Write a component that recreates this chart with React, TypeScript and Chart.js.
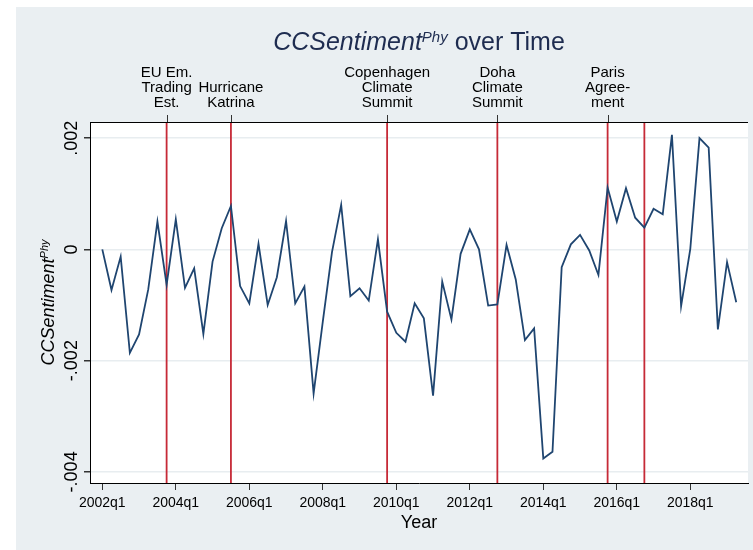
import { useEffect, useRef } from "react";
import { Chart, registerables } from "chart.js";
Chart.register(...registerables);

const FONT = "'Liberation Sans', Arial, Helvetica, sans-serif";
const PANEL = "#eaeff2";
const GRID = "#e8edf0";
const LINE = "#1f4570";
const RED = "#c62a37";
const TITLE_COLOR = "#1e2c50";

// Quarters 2002q1 .. 2019q2
const quarters: string[] = [];
for (let y = 2002; y <= 2019; y++) for (let q = 1; q <= 4; q++) quarters.push(`${y}q${q}`);
quarters.splice(70);

const sentiment: number[] = [
  0.0, -0.00073, -0.00013, -0.00186, -0.00153, -0.00072, 0.0005, -0.00064, 0.00054, -0.00069,
  -0.00034, -0.00152, -0.00022, 0.00038, 0.00078, -0.00066, -0.00097, 0.0001, -0.001, -0.0005,
  0.00051, -0.00097, -0.00067, -0.00259, -0.0013, -0.00005, 0.0008, -0.00084, -0.0007, -0.00092,
  0.00018, -0.00112, -0.0015, -0.00166, -0.00097, -0.00124, -0.00263, -0.00058, -0.00126, -0.00008,
  0.00036, 0.0, -0.00101, -0.00099, 0.00008, -0.00054, -0.00163, -0.00142, -0.00376, -0.00364,
  -0.00032, 0.00009, 0.00026, -0.00002, -0.00046, 0.00111, 0.0005, 0.0011, 0.00057, 0.00039,
  0.00073, 0.00063, 0.00206, -0.00102, 0.00001, 0.002, 0.00183, -0.00144, -0.00023, -0.00095,
];

const xTickQuarters: string[] = ["2002q1", "2004q1", "2006q1", "2008q1", "2010q1", "2012q1", "2014q1", "2016q1", "2018q1"];
const yTickValues: number[] = [0.002, 0, -0.002, -0.004];
const yTickLabels: string[] = [".002", "0", "-.002", "-.004"];

const eventQuarters: string[] = ["2003q4", "2005q3", "2009q4", "2012q4", "2015q4", "2016q4"];
const eventLabels: string[][] = [
  ["EU Em.", "Trading", "Est."],
  ["Hurricane", "Katrina"],
  ["Copenhagen", "Climate", "Summit"],
  ["Doha", "Climate", "Summit"],
  ["Paris", "Agree-", "ment"],
  [],
];

const X_MIN = -1.339;
const X_MAX = 70.28;
const Y_MIN = -0.0042;
const Y_MAX = 0.00229;

function drawSupText(
  ctx: CanvasRenderingContext2D,
  parts: { text: string; font: string; raise: number }[],
  cx: number,
  baseY: number
) {
  let total = 0;
  const widths = parts.map((p) => {
    ctx.font = p.font;
    const w = ctx.measureText(p.text).width;
    total += w;
    return w;
  });
  let x = cx - total / 2;
  parts.forEach((p, i) => {
    ctx.font = p.font;
    ctx.fillText(p.text, x, baseY - p.raise);
    x += widths[i];
  });
}

const decor = {
  id: "decor",
  beforeDraw(chart: any) {
    const { ctx, chartArea: a, width, height } = chart;
    ctx.save();
    ctx.fillStyle = "#ffffff";
    ctx.fillRect(0, 0, width, height);
    ctx.fillStyle = PANEL;
    ctx.fillRect(16, 7, width - 16, height - 7);
    ctx.fillStyle = "#ffffff";
    ctx.fillRect(a.left, a.top, a.right - a.left, a.bottom - a.top);
    ctx.restore();
  },
  beforeDatasetsDraw(chart: any) {
    const { ctx, chartArea: a, scales } = chart;
    ctx.save();
    ctx.strokeStyle = RED;
    ctx.lineWidth = 1.8;
    eventQuarters.forEach((q) => {
      const x = scales.x.getPixelForValue(quarters.indexOf(q));
      ctx.beginPath();
      ctx.moveTo(x, a.top);
      ctx.lineTo(x, a.bottom);
      ctx.stroke();
    });
    ctx.restore();
  },
  afterDraw(chart: any) {
    const { ctx, chartArea: a, scales } = chart;
    ctx.save();
    // top axis line
    ctx.strokeStyle = "#000";
    ctx.lineWidth = 1;
    ctx.beginPath();
    ctx.moveTo(a.left, a.top + 0.5);
    ctx.lineTo(a.right, a.top + 0.5);
    ctx.stroke();

    // event labels + top ticks
    ctx.fillStyle = "#000";
    ctx.font = `15px ${FONT}`;
    ctx.textAlign = "center";
    ctx.textBaseline = "alphabetic";
    eventQuarters.forEach((q, i) => {
      const lines = eventLabels[i];
      if (!lines.length) return;
      const x = scales.x.getPixelForValue(quarters.indexOf(q));
      ctx.strokeStyle = "#333";
      ctx.beginPath();
      ctx.moveTo(Math.round(x) + 0.5, a.top);
      ctx.lineTo(Math.round(x) + 0.5, a.top - 7);
      ctx.stroke();
      const n = lines.length;
      lines.forEach((t, j) => {
        ctx.fillText(t, x, 107 - (n - 1 - j) * 15);
      });
    });

    // y tick labels (rotated)
    ctx.font = `18px ${FONT}`;
    ctx.fillStyle = "#000";
    yTickValues.forEach((v, i) => {
      const y = scales.y.getPixelForValue(v);
      ctx.save();
      ctx.translate(77, y);
      ctx.rotate(-Math.PI / 2);
      ctx.textAlign = "center";
      ctx.fillText(yTickLabels[i], 0, 0);
      ctx.restore();
    });

    // title
    ctx.textAlign = "left";
    ctx.fillStyle = TITLE_COLOR;
    const cx = (a.left + a.right) / 2;
    drawSupText(
      ctx,
      [
        { text: "CCSentiment", font: `italic 25px ${FONT}`, raise: 0 },
        { text: "Phy", font: `italic 15px ${FONT}`, raise: 8 },
        { text: " over Time", font: `25px ${FONT}`, raise: 0 },
      ],
      cx,
      50
    );

    // y axis title
    ctx.fillStyle = "#000";
    ctx.save();
    ctx.translate(54, (a.top + a.bottom) / 2);
    ctx.rotate(-Math.PI / 2);
    drawSupText(
      ctx,
      [
        { text: "CCSentiment", font: `italic 18px ${FONT}`, raise: 0 },
        { text: "Phy", font: `italic 11px ${FONT}`, raise: 6 },
      ],
      0,
      0
    );
    ctx.restore();

    // x axis title
    ctx.font = `18px ${FONT}`;
    ctx.textAlign = "center";
    ctx.fillText("Year", cx, 528);
    ctx.restore();
  },
};

export default function App() {
  const ref = useRef<HTMLCanvasElement>(null);
  useEffect(() => {
    const chart = new Chart(ref.current as HTMLCanvasElement, {
      type: "line",
      data: {
        datasets: [
          {
            data: quarters.map((q, i) => ({ x: i, y: sentiment[i] })),
            borderColor: LINE,
            borderWidth: 1.8,
            pointRadius: 0,
            tension: 0,
            fill: false,
          },
        ],
      },
      options: {
        responsive: false,
        animation: false,
        devicePixelRatio: 1,
        layout: { padding: { top: 122, right: 5, left: 0, bottom: 0 } },
        plugins: {
          legend: { display: false },
          tooltip: { enabled: false },
          title: { display: false },
        },
        scales: {
          x: {
            type: "linear",
            min: X_MIN,
            max: X_MAX,
            afterFit(s: any) {
              s.height = 67;
            },
            afterBuildTicks(s: any) {
              s.ticks = xTickQuarters.map((q) => ({ value: quarters.indexOf(q) }));
            },
            ticks: {
              callback: (v: any) => quarters[Number(v)] ?? "",
              font: { family: FONT, size: 14 },
              color: "#000",
              padding: 5,
              maxRotation: 0,
              minRotation: 0,
              autoSkip: false,
            },
            grid: { drawOnChartArea: false, drawTicks: true, tickLength: 7, tickColor: "#333" },
            border: { display: true, color: "#000", width: 1 },
          },
          y: {
            type: "linear",
            min: Y_MIN,
            max: Y_MAX,
            afterFit(s: any) {
              s.width = 90;
            },
            afterBuildTicks(s: any) {
              s.ticks = yTickValues.map((v) => ({ value: v }));
            },
            ticks: { display: false },
            grid: { color: GRID, lineWidth: 1.5, drawTicks: true, tickLength: 6, tickColor: "#333" },
            border: { display: true, color: "#000", width: 1 },
          },
        },
      } as any,
      plugins: [decor],
    });
    return () => chart.destroy();
  }, []);
  return (
    <div style={{ position: "absolute", left: 0, top: 0, width: 753, height: 550 }}>
      <canvas ref={ref} width={753} height={550} style={{ display: "block", width: 753, height: 550 }} />
    </div>
  );
}
